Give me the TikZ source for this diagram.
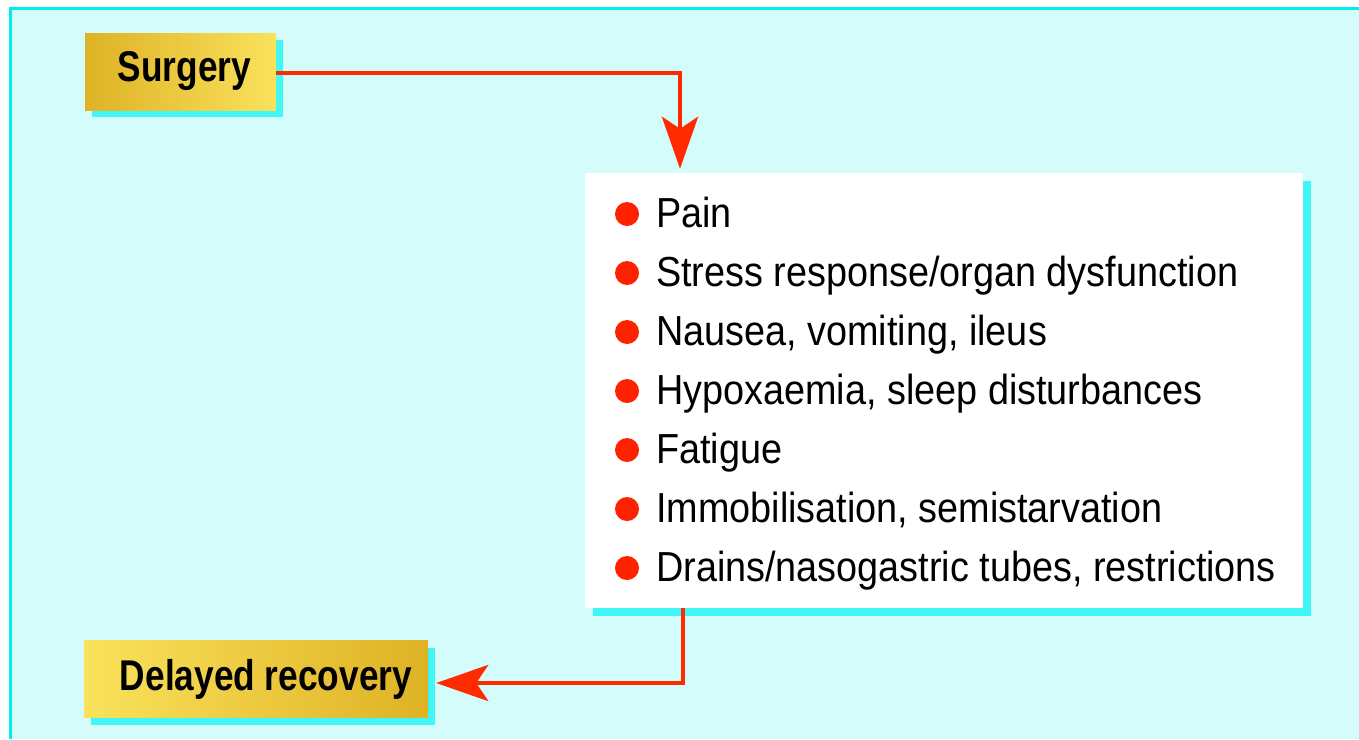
\documentclass[tikz,border=0pt]{standalone}
\usepackage{fontspec}
\setmainfont{Liberation Sans}
\newfontfamily\condreg[FakeStretch=0.9]{Liberation Sans}
\newfontfamily\condbold[FakeStretch=0.82]{Liberation Sans Bold}
\usetikzlibrary{arrows.meta,shadows}
\definecolor{bgcyan}{HTML}{D4FCFA}
\definecolor{bordercyan}{HTML}{00EEF0}
\definecolor{shadowcyan}{HTML}{40F6F6}
\definecolor{golddark}{HTML}{DEB225}
\definecolor{goldlight}{HTML}{FAE25C}
\definecolor{arrowred}{HTML}{FF2A00}
\definecolor{bulletred}{HTML}{FF2200}
\tikzset{
  goldbox/.style={draw=none, minimum width=#1, minimum height=77pt, inner sep=0pt,
    font=\condbold\fontsize{43}{48}\selectfont,
    general shadow={fill=shadowcyan, shadow xshift=7pt, shadow yshift=-7pt}},
  listbox/.style={fill=white, draw=none, minimum width=718pt, minimum height=435pt,
    inner sep=0pt,
    general shadow={fill=shadowcyan, shadow xshift=8pt, shadow yshift=-8pt}},
  itemtext/.style={anchor=base west, inner sep=0pt, font=\condreg\fontsize{42}{48}\selectfont},
  bulletdot/.style={circle, fill=bulletred, minimum size=24pt, inner sep=0pt, draw=none},
  arr/.style={draw=arrowred, line width=4.8pt,
    -{Stealth[length=52pt, width=36pt, inset=12pt]}}
}
\begin{document}
\begin{tikzpicture}[x=1pt,y=-1pt]
\useasboundingbox (0,0) rectangle (1359,739);
\fill[white] (0,0) rectangle (1359,739);
\fill[bgcyan] (10,8) rectangle (1359,739);
\draw[bordercyan, line width=3pt] (10.5,739) -- (10.5,8.5) -- (1359,8.5);

% boxes
\node[goldbox=191pt, left color=golddark, right color=goldlight] (s) at (180.5,71.5) {\hspace*{8pt}Surgery};
\node[goldbox=344pt, left color=goldlight, right color=golddark] (dr) at (256,679) {\hspace*{20pt}Delayed recovery};
\node[listbox] (list) at (944,390.5) {};

% items
\foreach \t [count=\i] in {Pain,Stress response/organ dysfunction,{Nausea, vomiting, ileus},{Hypoxaemia, sleep disturbances},Fatigue,{Immobilisation, semistarvation},{Drains/nasogastric tubes, restrictions}}{
  \node[bulletdot] (b\i) at (627,{214+59*(\i-1)}) {};
  \node[itemtext] (i\i) at (656,{227+59*(\i-1)}) {\t};
}

% connectors
\draw[arr, shorten >=4pt] ([yshift=-1.5pt]s.east) -| ([xshift=-264pt]list.north);
\draw[arr, shorten >=8pt] ([xshift=-261pt]list.south) |- ([yshift=-4pt]dr.east);
\end{tikzpicture}
\end{document}
